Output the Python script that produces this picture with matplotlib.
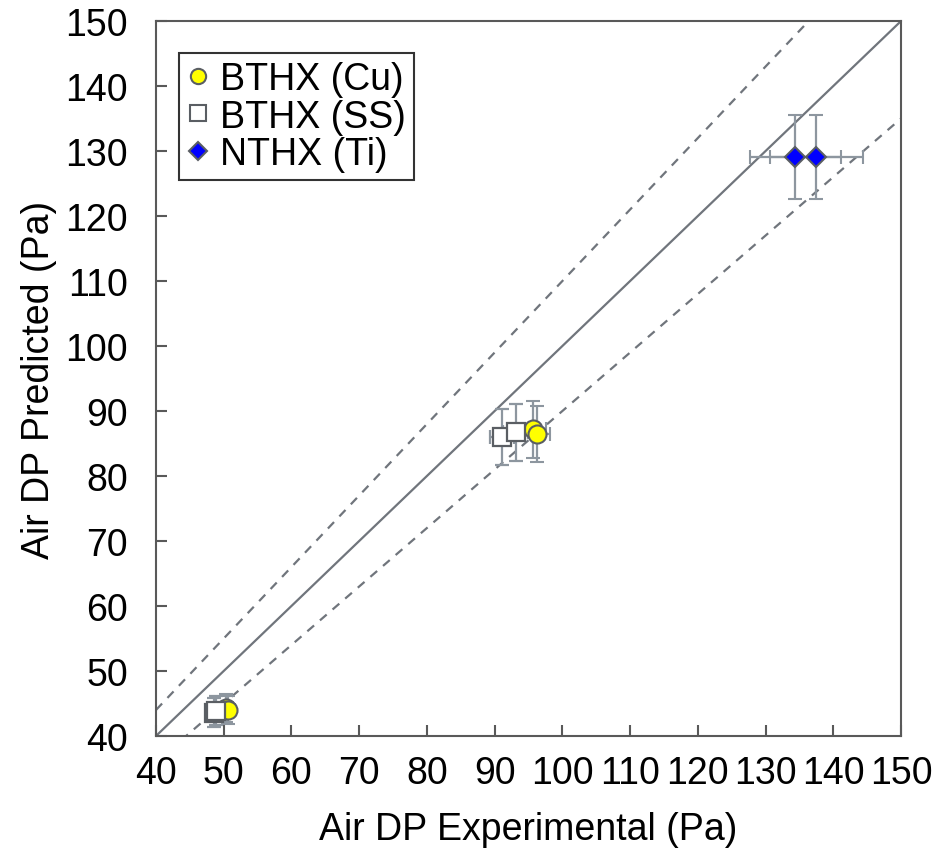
import numpy as np
import matplotlib.pyplot as plt
from matplotlib.lines import Line2D

plt.rcParams['font.family'] = ['Liberation Sans', 'DejaVu Sans']

# valores (Pa)
cu_exp = [50.3, 50.6, 95.7, 96.2]
cu_pred = [44.3, 44.0, 87.2, 86.5]
ss_exp = [48.5, 48.8, 91.1, 93.1]
ss_pred = [43.6, 43.9, 86.0, 86.7]
ti_exp = [134.4, 137.5]
ti_pred = [129.1, 129.1]

# incertezas relativas
err_x_bt = 0.02
err_y_bt = 0.05
err_x_ti = 0.05
err_y_ti = 0.05

lim = [40, 150]
ticks = np.arange(40, 151, 10)

fig = plt.figure(figsize=(9.43, 8.54), dpi=100)
ax = fig.add_axes([0.1654, 0.137, 0.7901, 0.8372])

line_c = '#70757c'
err_c = '#8d969f'
edge_c = '#5a5e63'

# linha 1:1 e faixas de +-10%
xs = np.array(lim, dtype=float)
ax.plot(xs, xs, color=line_c, lw=1.6, zorder=1)
ax.plot(xs, 1.1 * xs, color=line_c, lw=1.6, ls=(0, (4, 3.5)), zorder=1)
ax.plot(xs, 0.9 * xs, color=line_c, lw=1.6, ls=(0, (4, 3.5)), zorder=1)

cu_exp = np.array(cu_exp)
cu_pred = np.array(cu_pred)
ss_exp = np.array(ss_exp)
ss_pred = np.array(ss_pred)
ti_exp = np.array(ti_exp)
ti_pred = np.array(ti_pred)

ax.errorbar(cu_exp, cu_pred, xerr=err_x_bt * cu_exp, yerr=err_y_bt * cu_pred,
            fmt='o', ms=13, mfc='#ffff00', mec=edge_c, mew=1.5,
            ecolor=err_c, elinewidth=1.6, capsize=5, capthick=1.6, zorder=3)
ax.errorbar(ss_exp, ss_pred, xerr=err_x_bt * ss_exp, yerr=err_y_bt * ss_pred,
            fmt='s', ms=13, mfc='white', mec=edge_c, mew=1.6,
            ecolor=err_c, elinewidth=1.6, capsize=5, capthick=1.6, zorder=3)
ax.errorbar(ti_exp, ti_pred, xerr=err_x_ti * ti_exp, yerr=err_y_ti * ti_pred,
            fmt='D', ms=10, mfc='#0000ff', mec=edge_c, mew=1.5,
            ecolor=err_c, elinewidth=1.6, capsize=5, capthick=1.6, zorder=3)

ax.set_xlim(lim)
ax.set_ylim(lim)
ax.set_xticks(ticks)
ax.set_yticks(ticks)
ax.tick_params(direction='in', length=8, width=1.5, color='#595959',
               labelsize=27, colors='#595959', labelcolor='black')
ax.tick_params(axis='x', pad=14)
ax.tick_params(axis='y', pad=20)
for s in ax.spines.values():
    s.set_color('#595959')
    s.set_linewidth(1.5)

ax.set_xlabel('Air DP Experimental (Pa)', fontsize=27, labelpad=14)
ax.set_ylabel('Air DP Predicted (Pa)', fontsize=27, labelpad=6)

# legenda com marcadores menores
h = [Line2D([], [], ls='none', marker='o', ms=11, mfc='#ffff00', mec=edge_c, mew=1.5),
     Line2D([], [], ls='none', marker='s', ms=11, mfc='white', mec=edge_c, mew=1.5),
     Line2D([], [], ls='none', marker='D', ms=9.5, mfc='#0000ff', mec=edge_c, mew=1.5)]
l = ['BTHX (Cu)', 'BTHX (SS)', 'NTHX (Ti)']
leg = ax.legend(h, l, loc='upper left', bbox_to_anchor=(0.031, 0.955),
                fontsize=27, frameon=True, fancybox=False, handlelength=0.6,
                handletextpad=0.3, borderpad=0.2, labelspacing=0.05,
                borderaxespad=0)
leg.get_frame().set_edgecolor('black')
leg.get_frame().set_linewidth(1.5)

plt.savefig('out.png', dpi=100)
